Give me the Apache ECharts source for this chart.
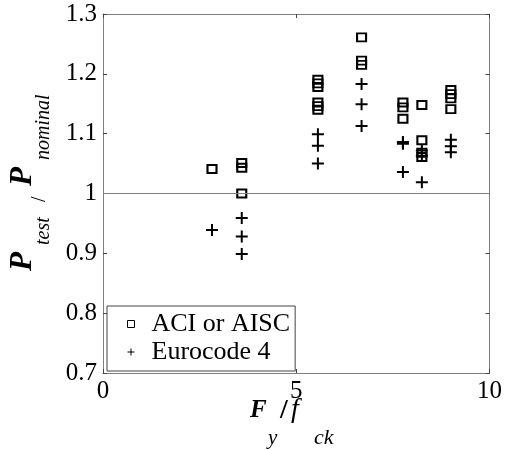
<!DOCTYPE html>
<html>
<head>
<meta charset="utf-8">
<script src="https://cdn.jsdelivr.net/npm/echarts@6/dist/echarts.min.js"></script>
<style>
html, body { margin: 0; padding: 0; background: #fff; }
#chart { width: 505px; height: 450px; }
</style>
</head>
<body>
<div id="chart"></div>
<script>
// ACI or AISC (squares)
var aciX = [2.82,
  3.59, 3.59, 3.59,
  5.56, 5.56, 5.56, 5.56, 5.56, 5.56,
  6.69, 6.69, 6.69,
  7.76, 7.76, 7.76,
  8.25, 8.25, 8.25, 8.25,
  9.0, 9.0, 9.0, 9.0];
var aciY = [1.041,
  1.051, 1.043, 1.000,
  1.190, 1.184, 1.178, 1.152, 1.146, 1.140,
  1.261, 1.222, 1.215,
  1.152, 1.144, 1.125,
  1.148, 1.089, 1.068, 1.061,
  1.173, 1.166, 1.159, 1.141];

// Eurocode 4 (plus)
var ec4X = [2.82,
  3.59, 3.59, 3.59,
  5.56, 5.56, 5.56,
  6.69, 6.69, 6.69,
  7.76, 7.76, 7.76,
  8.25, 8.25, 8.25,
  9.0, 9.0, 9.0];
var ec4Y = [0.939,
  0.959, 0.928, 0.899,
  1.099, 1.080, 1.050,
  1.183, 1.149, 1.113,
  1.086, 1.083, 1.036,
  1.072, 1.063, 1.019,
  1.090, 1.079, 1.069];

var xRange = [0, 10, 5];      // min, max, interval
var yRange = [0.7, 1.3, 0.1];
var refLine = 1;
var seriesNames = ['ACI or AISC', 'Eurocode 4'];

var serif = 'Liberation Serif';
var frame = '#808080';
var plusPath = 'path://M5,0H7V5H12V7H7V12H5V7H0V5H5Z';
var plusSmall = 'path://M3,0H4V3H7V4H4V7H3V4H0V3H3Z';

function zip(xs, ys) {
  return xs.map(function (x, i) { return [x, ys[i]]; });
}

function axisX(pos, labels) {
  return {
    type: 'value', position: pos,
    min: xRange[0], max: xRange[1], interval: xRange[2],
    axisLine: { show: true, onZero: false, lineStyle: { color: frame, width: 1 } },
    axisTick: { show: true, inside: true, length: 4, lineStyle: { color: '#444' } },
    axisLabel: { show: labels, color: '#000', fontFamily: serif, fontSize: 25, margin: 6 },
    splitLine: { show: false }
  };
}
function axisY(pos, labels) {
  return {
    type: 'value', position: pos,
    min: yRange[0], max: yRange[1], interval: yRange[2],
    axisLine: { show: true, onZero: false, lineStyle: { color: frame, width: 1 } },
    axisTick: { show: true, inside: true, length: 4, lineStyle: { color: '#444' } },
    axisLabel: { show: labels, color: '#000', fontFamily: serif, fontSize: 25, margin: 6 },
    splitLine: { show: false }
  };
}

// pieces of the axis titles (with subscripts)
function txt(x, y, s, size, weight, style, rot) {
  return {
    type: 'text', x: x, y: y, rotation: rot || 0, silent: true,
    style: {
      text: s, fill: '#000', font: style + ' ' + weight + ' ' + size + 'px "' + serif + '"',
      align: 'left', verticalAlign: 'middle'
    }
  };
}
var R = Math.PI / 2;

var chart = echarts.init(document.getElementById('chart'));
chart.setOption({
  backgroundColor: '#fff',
  animation: false,
  grid: { left: 103, right: 13, top: 14, bottom: 77 },
  xAxis: [axisX('bottom', true), axisX('top', false)],
  yAxis: [axisY('left', true), axisY('right', false)],
  legend: {
    orient: 'vertical', left: 107, top: 306,
    selectedMode: false,
    borderColor: '#444', borderWidth: 1, borderRadius: 0,
    backgroundColor: '#fff',
    padding: [4, 5, 5, 20],
    itemGap: 0, itemWidth: 7, itemHeight: 7,
    textStyle: { color: '#000', fontFamily: serif, fontSize: 26, lineHeight: 28, padding: [0, 0, 0, 12] },
    data: [
      { name: seriesNames[0], icon: 'rect', itemStyle: { color: '#fff', borderColor: '#000', borderWidth: 1 } },
      { name: seriesNames[1], icon: plusSmall, itemStyle: { color: '#000', borderWidth: 0 } }
    ]
  },
  graphic: [
    // y title: P_test / P_nominal
    txt(23, 271, 'P', 31, 'bold', 'italic', R),
    txt(44, 245, 'test', 20, 'normal', 'italic', R),
    txt(40, 202, '/', 20, 'normal', 'normal', R),
    txt(23, 186, 'P', 31, 'bold', 'italic', R),
    txt(44, 160, 'nominal', 20, 'normal', 'italic', R),
    // x title: F_y / f_ck
    txt(250, 411, 'F', 25, 'bold', 'italic'),
    txt(268, 438, 'y', 21, 'normal', 'italic'),
    txt(280, 411, '/', 28, 'bold', 'normal'),
    txt(291, 410, 'f', 28, 'normal', 'italic'),
    txt(314, 438, 'ck', 22, 'normal', 'italic')
  ],
  series: [
    {
      name: seriesNames[0], type: 'scatter',
      symbol: 'rect', symbolSize: [9, 8],
      itemStyle: { color: 'rgba(0,0,0,0)', borderColor: '#000', borderWidth: 2, opacity: 1 },
      data: zip(aciX, aciY),
      z: 3,
      markLine: {
        silent: true, symbol: 'none',
        label: { show: false },
        lineStyle: { color: frame, width: 1, type: 'solid' },
        data: [{ yAxis: refLine }]
      }
    },
    {
      name: seriesNames[1], type: 'scatter',
      symbol: plusPath, symbolSize: 12,
      itemStyle: { color: '#000', opacity: 1 },
      data: zip(ec4X, ec4Y),
      z: 3
    }
  ]
});
</script>
</body>
</html>
